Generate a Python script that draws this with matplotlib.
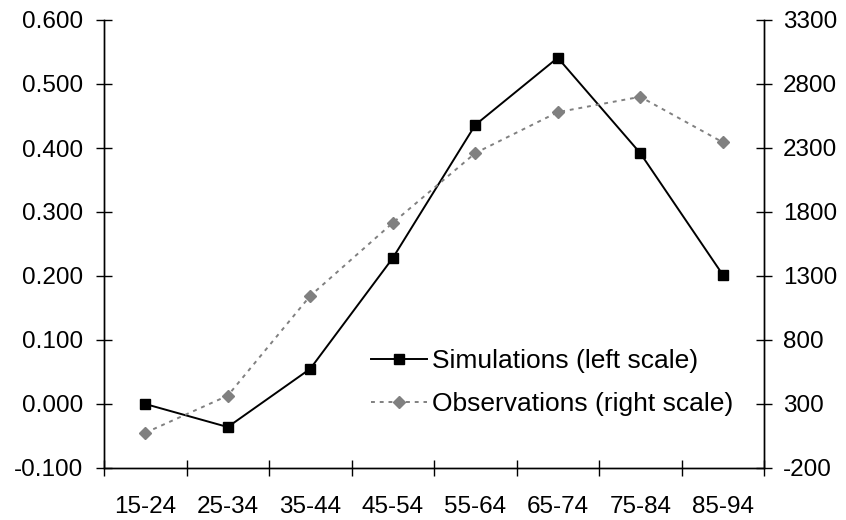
import matplotlib.pyplot as plt
import numpy as np

plt.rcParams['font.family'] = ['Liberation Sans', 'DejaVu Sans']
plt.rcParams['axes.unicode_minus'] = False

age_groups = ["15-24", "25-34", "35-44", "45-54", "55-64", "65-74", "75-84", "85-94"]
simulations = [0.000, -0.036, 0.055, 0.228, 0.436, 0.541, 0.392, 0.202]
observations = [75, 365, 1145, 1715, 2260, 2580, 2700, 2345]

x = np.arange(len(age_groups))

fig = plt.figure(figsize=(8.46, 5.2), dpi=100)
ax = fig.add_axes([104 / 846, 1 - 468 / 520, 660 / 846, 448 / 520])
ax2 = ax.twinx()

l1, = ax.plot(x, simulations, color="black", linewidth=1.4, marker="s",
              markersize=7.5, label="Simulations (left scale)")
l2, = ax2.plot(x, observations, color="#808080", linewidth=1.4,
               linestyle=(0, (2, 2.5)), marker="D", markersize=6,
               label="Observations (right scale)")

ax.set_xlim(-0.5, len(age_groups) - 0.5)
ax.set_ylim(-0.1, 0.6)
ax.set_yticks(np.arange(-0.1, 0.61, 0.1))
ax.set_yticklabels([f"{v:.3f}" for v in np.arange(-0.1, 0.61, 0.1)])
ax2.set_ylim(-200, 3300)
ax2.set_yticks(np.arange(-200, 3301, 500))

ax.set_xticks(np.arange(-0.5, len(age_groups), 1.0))
ax.set_xticklabels([])
ax.set_xticks(x, minor=True)
ax.set_xticklabels(age_groups, minor=True)
ax.tick_params(axis="x", which="minor", length=0, pad=20, labelsize=17.5)
ax.tick_params(axis="x", which="major", direction="inout", length=12, width=1)
ax.tick_params(axis="y", direction="inout", length=12, width=1, pad=9, labelsize=17.5)
ax2.tick_params(axis="y", direction="inout", length=12, width=1, pad=7.5, labelsize=17.5)

for a in (ax, ax2):
    a.spines["top"].set_visible(False)
    for s in ("left", "right", "bottom"):
        a.spines[s].set_linewidth(1)
        a.spines[s].set_color("black")

ax2.legend(handles=[l1, l2], loc="lower left", bbox_to_anchor=(0.405, 0.116),
           frameon=False, fontsize=19, handlelength=2.1, handletextpad=0.2,
           labelspacing=0.72, borderaxespad=0, borderpad=0)

fig.savefig("out.png", dpi=100)
